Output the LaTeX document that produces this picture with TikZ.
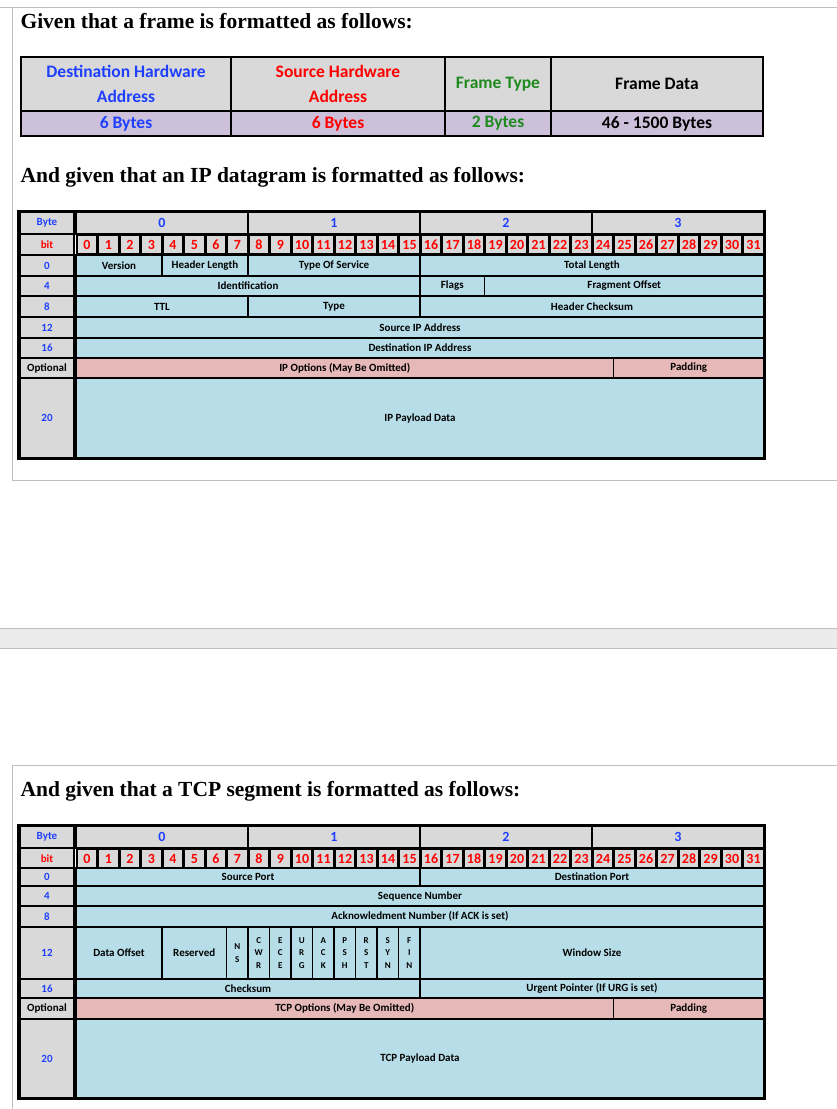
\documentclass[tikz,border=0pt]{standalone}
\usepackage{fontspec}
\setmainfont{Carlito}
\newfontfamily\ser{Liberation Serif}
\definecolor{cg}{HTML}{D9D9D9}
\definecolor{cb}{HTML}{B7DEE8}
\definecolor{cp}{HTML}{E6B8B7}
\definecolor{cv}{HTML}{CCC0DA}
\definecolor{tb}{HTML}{1F3FFF}
\definecolor{tr}{HTML}{FF0000}
\definecolor{tg}{HTML}{1E8A1E}
\tikzset{cellbox/.style={draw=black,line width=1.3pt},
  ttl/.style={anchor=west,font=\ser\bfseries\fontsize{21.5}{24}\selectfont},
  panel/.style={draw=black!25,line width=0.8pt}}
\newcommand\cfs{\fontsize{11}{13}\selectfont}
% x1 y1 x2 y2 fill color text
\newcommand\cell[7]{\path[cellbox,fill=#5] ({#1},{#2}) rectangle ({#3},{#4});
  \node[text=#6,font=\bfseries\cfs,align=center,inner sep=0pt] at ({(#1+#3)/2},{(#2+#4)/2}) {#7};}
% firstbit lastbit y1 y2 fill text
\newcommand\fld[6]{\cell{76+21.5*#1}{#3}{76+21.5*(#2+1)}{#4}{#5}{black}{#6}}
\newcommand\lab[4]{\cell{20}{#1}{74}{#2}{cg}{#3}{#4}}
\newcommand\hdr[1]{%
  \renewcommand\cfs{\fontsize{11}{13}\selectfont}
  \lab{#1}{#1+22}{tb}{Byte}\lab{#1+22}{#1+43}{tr}{bit}
  \renewcommand\cfs{\fontsize{14}{16}\selectfont}
  \foreach \k in {0,...,3}{\cell{76+172*\k}{#1}{76+172*(\k+1)}{#1+22}{cg}{tb}{\k}}
  \foreach \b in {0,...,31}{\cell{77+21.5*\b}{#1+23.5}{75.5+21.5*(\b+1)}{#1+42}{cg}{tr}{\b}}
  \renewcommand\cfs{\fontsize{11}{13}\selectfont}}
\begin{document}
\begin{tikzpicture}[x=1pt,y=-1pt]
\useasboundingbox (0,0) rectangle (837,1109);
\fill[white] (0,0) rectangle (837,1109);
\draw[panel] (0,7) -- (837,7) (12,7) -- (12,480) -- (837,480);
\fill[black!8] (0,628) rectangle (837,648);
\draw[panel] (0,628) -- (837,628) (0,648) -- (837,648);
\draw[panel] (837,765) -- (12,765) -- (12,1109);
\node[ttl] (t1) at (17,21) {Given that a frame is formatted as follows:};
\node[ttl] (t2) at (17,177) {And given that an IP datagram is formatted as follows:};
\node[ttl] (t3) at (17,791) {And given that a TCP segment is formatted as follows:};
% frame table
\renewcommand\cfs{\fontsize{17.5}{25}\selectfont}
\cell{21}{57}{231}{111}{cg}{tb}{Destination Hardware\\Address}
\cell{231}{57}{445}{111}{cg}{tr}{Source Hardware\\Address}
\cell{445}{57}{551}{111}{cg}{tg}{Frame Type}
\cell{551}{57}{763}{111}{cg}{black}{Frame Data}
\cell{21}{111}{231}{136}{cv}{tb}{6 Bytes}
\cell{231}{111}{445}{136}{cv}{tr}{6 Bytes}
\cell{445}{111}{551}{136}{cv}{tg}{2 Bytes}
\cell{551}{111}{763}{136}{cv}{black}{46 - 1500 Bytes}
\draw[line width=2pt] (21,57) rectangle (763,136);
% IP table
\draw[line width=2pt,fill=white] (18,211) rectangle (765,459);
\hdr{212}
\lab{255}{276}{tb}{0}\lab{276}{296}{tb}{4}\lab{296}{317}{tb}{8}\lab{317}{338}{tb}{12}
\lab{338}{358}{tb}{16}\lab{358}{378}{black}{Optional}\lab{378}{458}{tb}{20}
\fld{0}{3}{255}{276}{cb}{Version}\fld{4}{7}{255}{276}{cb}{Header Length}
\fld{8}{15}{255}{276}{cb}{Type Of Service}\fld{16}{31}{255}{276}{cb}{Total Length}
\fld{0}{15}{276}{296}{cb}{Identification}\fld{16}{18}{276}{296}{cb}{Flags}
\fld{19}{31}{276}{296}{cb}{Fragment Offset}
\fld{0}{7}{296}{317}{cb}{TTL}\fld{8}{15}{296}{317}{cb}{Type}\fld{16}{31}{296}{317}{cb}{Header Checksum}
\fld{0}{31}{317}{338}{cb}{Source IP Address}
\fld{0}{31}{338}{358}{cb}{Destination IP Address}
\fld{0}{24}{358}{378}{cp}{IP Options (May Be Omitted)}\fld{25}{31}{358}{378}{cp}{Padding}
\fld{0}{31}{378}{458}{cb}{IP Payload Data}
% TCP table
\draw[line width=2pt,fill=white] (18,825) rectangle (765,1099);
\hdr{826}
\lab{868}{886}{tb}{0}\lab{886}{906}{tb}{4}\lab{906}{927}{tb}{8}\lab{927}{979}{tb}{12}
\lab{979}{998}{tb}{16}\lab{998}{1019}{black}{Optional}\lab{1019}{1098}{tb}{20}
\fld{0}{15}{868}{886}{cb}{Source Port}\fld{16}{31}{868}{886}{cb}{Destination Port}
\fld{0}{31}{886}{906}{cb}{Sequence Number}
\fld{0}{31}{906}{927}{cb}{Acknowledment Number (If ACK is set)}
\fld{0}{3}{927}{979}{cb}{Data Offset}\fld{4}{6}{927}{979}{cb}{Reserved}
\fld{16}{31}{927}{979}{cb}{Window Size}
\renewcommand\cfs{\fontsize{9}{12.5}\selectfont}
\fld{7}{7}{927}{979}{cb}{N\\S}
\foreach \n/\a/\b/\c in {8/C/W/R,9/E/C/E,10/U/R/G,11/A/C/K,12/P/S/H,13/R/S/T,14/S/Y/N,15/F/I/N}
  {\fld{\n}{\n}{927}{979}{cb}{\a\\\b\\\c}}
\renewcommand\cfs{\fontsize{11}{13}\selectfont}
\fld{0}{15}{979}{998}{cb}{Checksum}\fld{16}{31}{979}{998}{cb}{Urgent Pointer (If URG is set)}
\fld{0}{24}{998}{1019}{cp}{TCP Options (May Be Omitted)}\fld{25}{31}{998}{1019}{cp}{Padding}
\fld{0}{31}{1019}{1098}{cb}{TCP Payload Data}
\end{tikzpicture}
\end{document}
